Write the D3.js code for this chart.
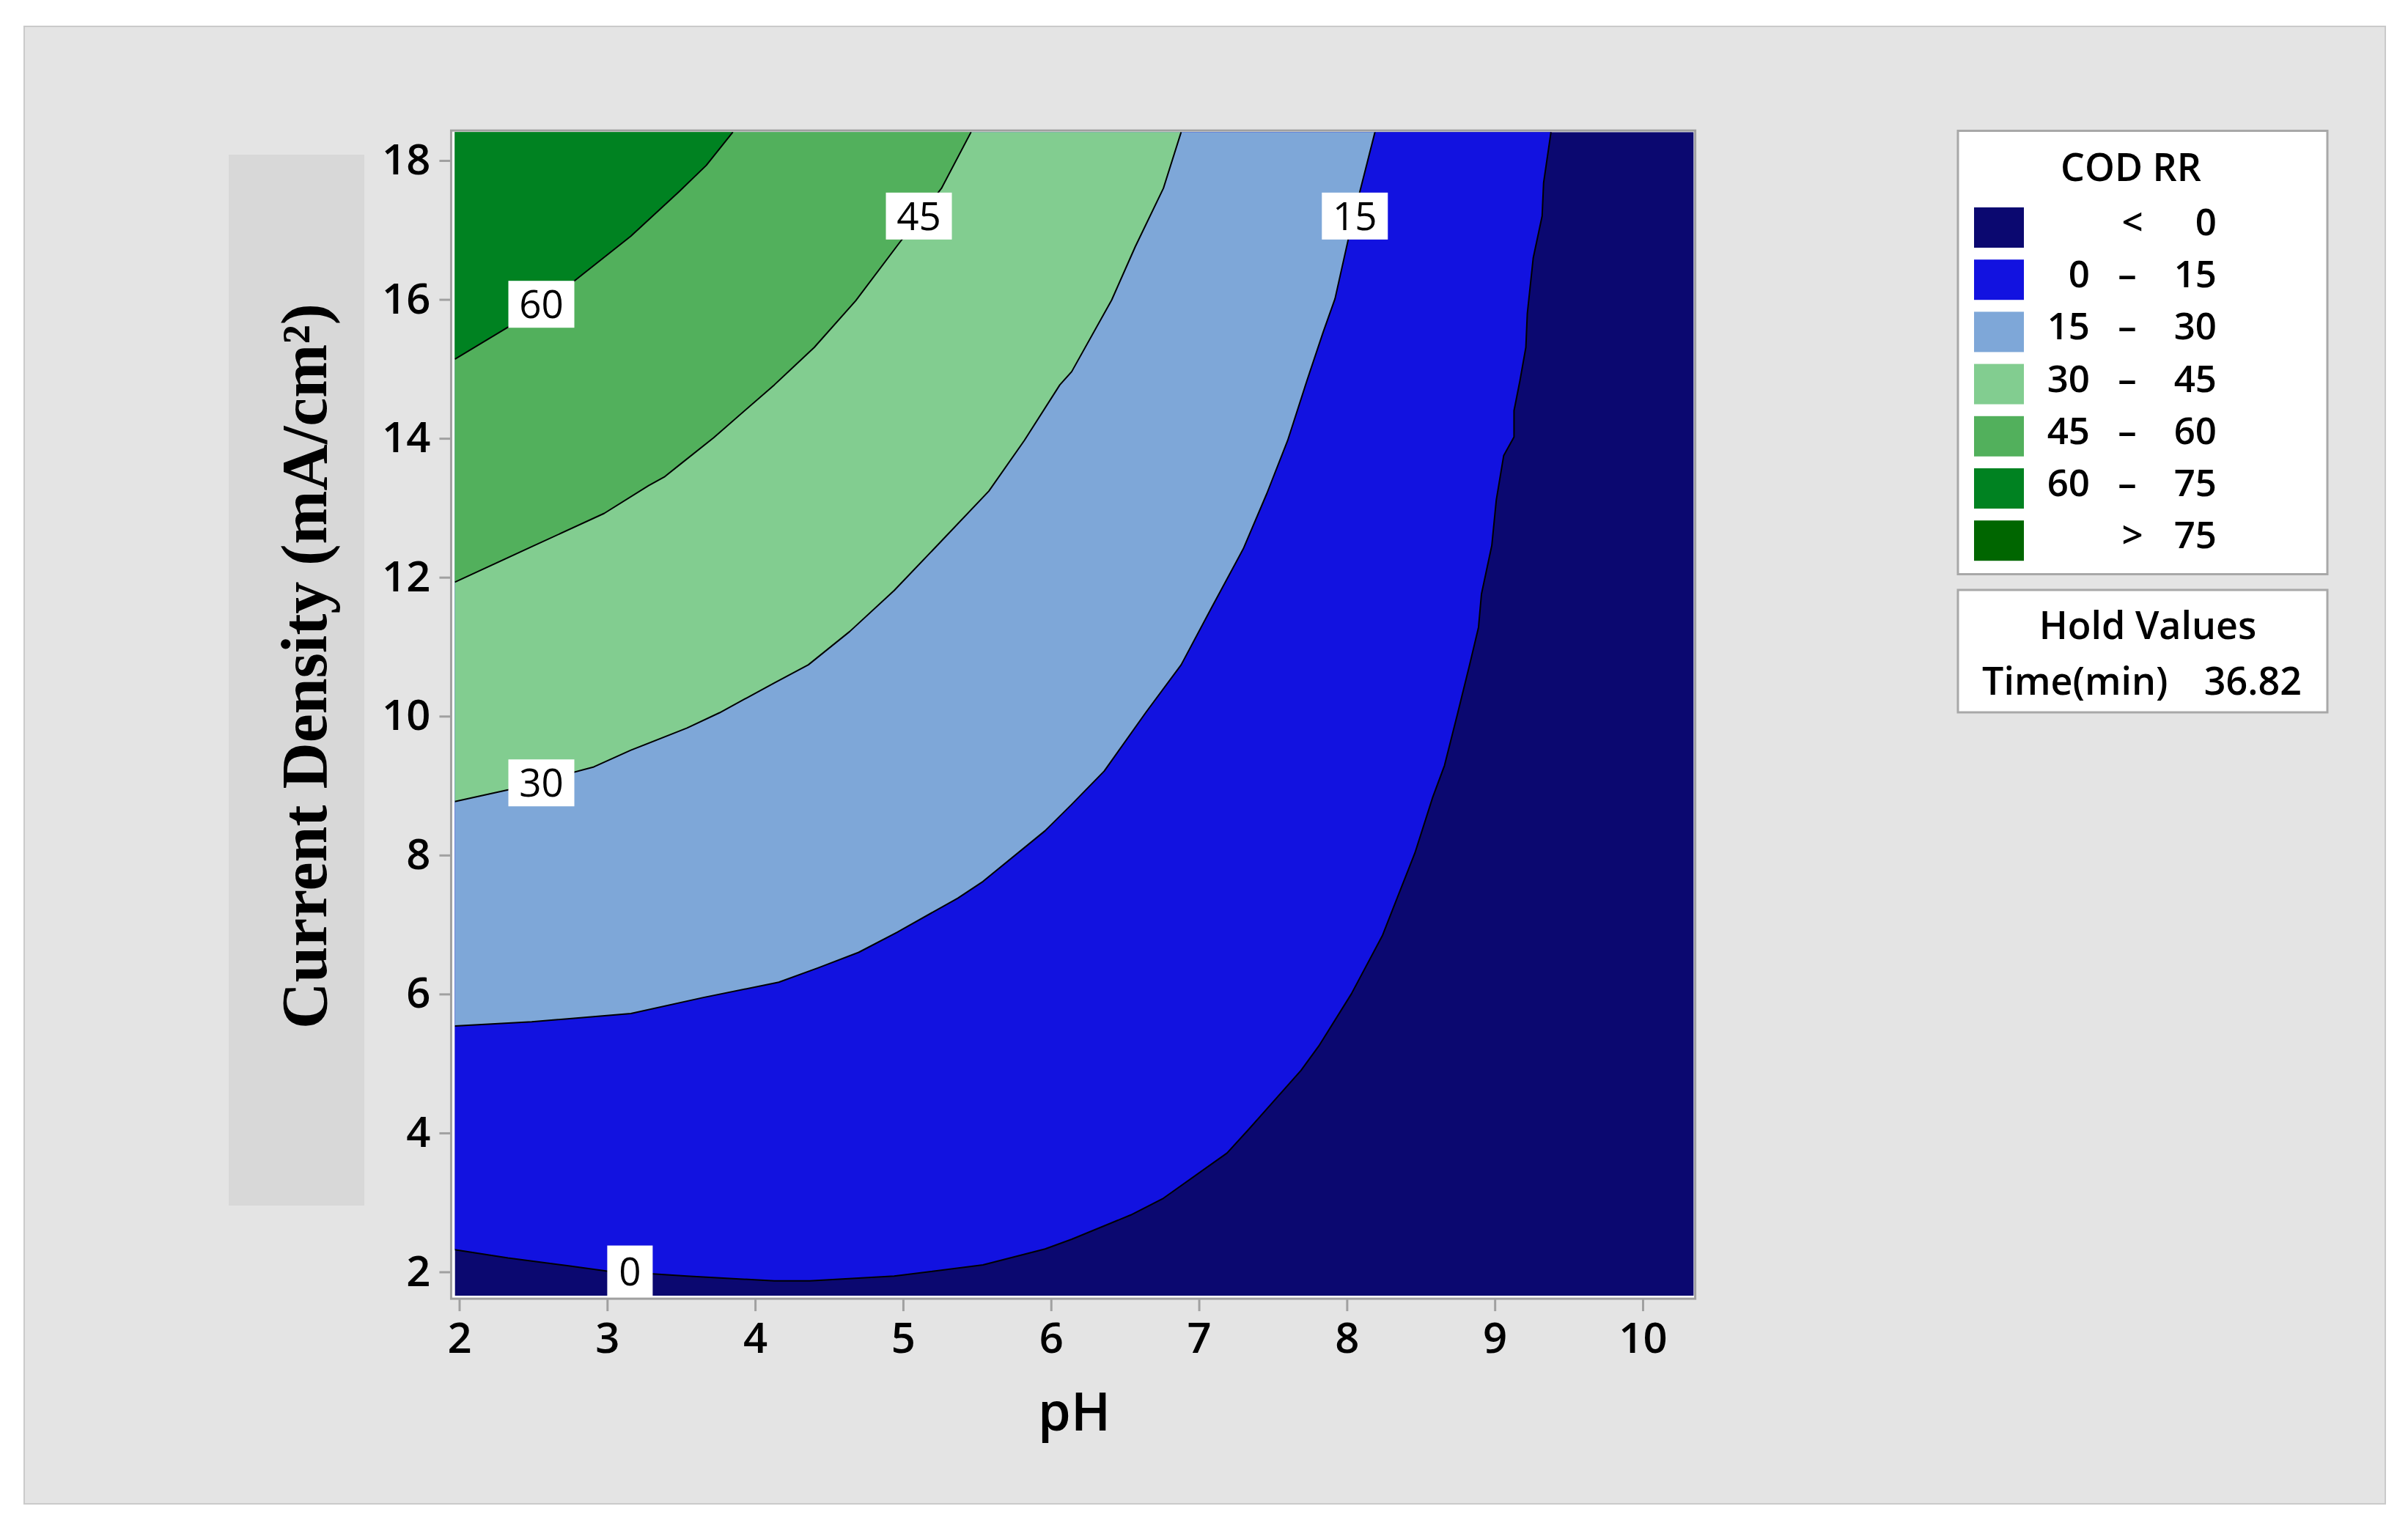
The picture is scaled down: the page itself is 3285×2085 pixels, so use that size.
<!DOCTYPE html>
<html><head><meta charset="utf-8">
<script src="https://cdn.jsdelivr.net/npm/d3@7"></script>
<style>html,body{margin:0;padding:0;background:#fff;} svg{display:block}</style>
</head><body>
<svg id="chart" width="3285" height="2085"></svg>
<script>
// ---------- data ----------
const xTicks = [2, 3, 4, 5, 6, 7, 8, 9, 10];
const yTicks = [2, 4, 6, 8, 10, 12, 14, 16, 18];
const xExtent = [1.97, 10.345];   // pH range covered by the surface
const yExtent = [1.656, 18.41];   // current density range covered by the surface
const xTitle = "pH";
const yTitle = "Current Density (mA/cm²)";

const contourLevels = [0, 15, 30, 45, 60];
// contour lines: [pH, current density]
const contour0 = [[1.97,2.32],[2.33,2.20],[2.73,2.09],[3.00,2.01],[3.31,1.97],[3.54,1.94],[4.13,1.87],[4.37,1.87],[4.94,1.94],[5.54,2.10],[5.96,2.33],[6.14,2.47],[6.54,2.82],[6.76,3.06],[7.19,3.71],[7.34,4.06],[7.69,4.90],[7.81,5.25],[8.03,6.00],[8.24,6.84],[8.46,8.03],[8.58,8.83],[8.66,9.29],[8.75,10.05],[8.83,10.74],[8.89,11.28],[8.91,11.76],[8.98,12.46],[9.01,13.11],[9.06,13.75],[9.13,14.02],[9.13,14.40],[9.17,14.83],[9.21,15.31],[9.22,15.80],[9.26,16.60],[9.32,17.20],[9.33,17.68],[9.38,18.41]];
const contour15 = [[1.97,5.54],[2.49,5.60],[3.16,5.72],[3.65,5.95],[4.16,6.17],[4.43,6.38],[4.70,6.60],[4.96,6.89],[5.37,7.38],[5.54,7.62],[5.96,8.35],[6.14,8.73],[6.36,9.21],[6.64,10.05],[6.88,10.74],[7.08,11.54],[7.30,12.41],[7.46,13.21],[7.60,13.97],[7.73,14.83],[7.84,15.53],[7.92,16.01],[8.01,16.87],[8.09,17.57],[8.19,18.41]];
const contour30 = [[1.97,8.77],[2.33,8.94],[2.91,9.27],[3.16,9.51],[3.54,9.83],[3.76,10.05],[4.13,10.48],[4.36,10.74],[4.64,11.22],[4.94,11.81],[5.29,12.59],[5.58,13.24],[5.82,13.97],[6.06,14.77],[6.14,14.96],[6.41,15.99],[6.57,16.76],[6.76,17.60],[6.88,18.41]];
const contour45 = [[1.97,11.93],[2.48,12.43],[2.98,12.92],[3.28,13.32],[3.39,13.45],[3.49,13.62],[3.72,14.01],[4.13,14.77],[4.40,15.31],[4.68,15.98],[4.97,16.80],[5.26,17.60],[5.46,18.41]];
const contour60 = [[1.97,15.14],[2.33,15.60],[2.78,16.27],[3.16,16.91],[3.49,17.56],[3.67,17.93],[3.85,18.41]];
const contourLines = [contour0, contour15, contour30, contour45, contour60];

// contour labels: level and where its box sits [pH, current density]
const labelLevels = ["60", "45", "15", "30", "0"];
const labelPH = [2.555, 5.107, 8.054, 2.555, 3.154];
const labelCD = [15.93, 17.20, 17.20, 9.04, 2.01];

// legend
const legendTitle = "COD RR";
const bandColors = ["#0b0870", "#1212e0", "#7ea7d8", "#82cd90", "#52b05c", "#008221", "#006600"];
const legendLow = ["", "0", "15", "30", "45", "60", ""];
const legendSep = ["<", "–", "–", "–", "–", "–", ">"];
const legendHigh = ["0", "15", "30", "45", "60", "75", "75"];
const holdTitle = "Hold Values";
const holdName = "Time(min)";
const holdValue = "36.82";

// ---------- drawing ----------
const svg = d3.select("#chart");
const SANS = "'Open Sans', 'Noto Sans', sans-serif";

const x = d3.scaleLinear().domain([2, 10]).range([626.5, 2241]);
const y = d3.scaleLinear().domain([2, 18]).range([1735.5, 219]);

// background panel
svg.append("rect").attr("x", 0).attr("y", 0).attr("width", 3285).attr("height", 2085).attr("fill", "#ffffff");
svg.append("rect").attr("x", 33).attr("y", 36).attr("width", 3221).attr("height", 2016)
  .attr("fill", "#e4e4e4").attr("stroke", "#cacaca").attr("stroke-width", 2);

// y title box + text
svg.append("rect").attr("x", 312).attr("y", 211).attr("width", 185).attr("height", 1434).attr("fill", "#d8d8d8");
svg.append("text")
  .attr("transform", "translate(445,909) rotate(-90)")
  .attr("text-anchor", "middle")
  .attr("font-family", "'Liberation Serif', 'DejaVu Serif', serif")
  .attr("font-weight", "bold")
  .attr("font-size", 88)
  .attr("textLength", 990)
  .attr("lengthAdjust", "spacingAndGlyphs")
  .attr("fill", "#000")
  .text(yTitle);

const X0 = x(xExtent[0]), X1 = x(xExtent[1]);
const Y0 = y(yExtent[0]), Y1 = y(yExtent[1]);

// frame
svg.append("rect")
  .attr("x", X0 - 5).attr("y", Y1 - 2)
  .attr("width", X1 - X0 + 7).attr("height", Y0 - Y1 + 6)
  .attr("fill", "#ffffff").attr("stroke", "#a0a0a0").attr("stroke-width", 3);

// clip
svg.append("defs").append("clipPath").attr("id", "plotclip")
  .append("rect").attr("x", X0).attr("y", Y1).attr("width", X1 - X0).attr("height", Y0 - Y1);

const plot = svg.append("g").attr("clip-path", "url(#plotclip)");
plot.append("rect").attr("x", X0).attr("y", Y1).attr("width", X1 - X0).attr("height", Y0 - Y1)
  .attr("fill", bandColors[0]);

const corner = [xExtent[0] - 0.2, yExtent[1] + 0.2];
const polyLine = d3.line().x(d => x(d[0])).y(d => y(d[1]));

contourLines.forEach((pts, i) => {
  const poly = [[pts[0][0] - 0.2, pts[0][1]], ...pts, [pts[pts.length - 1][0], pts[pts.length - 1][1] + 0.2], corner];
  plot.append("path").attr("d", polyLine(poly) + "Z").attr("fill", bandColors[i + 1]).attr("stroke", "none");
});
contourLines.forEach(pts => {
  plot.append("path").attr("d", polyLine(pts)).attr("fill", "none")
    .attr("stroke", "#000").attr("stroke-width", 2).attr("stroke-linejoin", "round");
});

// contour labels
labelLevels.forEach((lab, i) => {
  const w = 34 + 28 * lab.length, h = lab.length === 1 ? 70 : 64;
  const g = plot.append("g").attr("transform", `translate(${x(labelPH[i])},${y(labelCD[i])})`);
  g.append("rect").attr("x", -w / 2).attr("y", -h / 2).attr("width", w).attr("height", h).attr("fill", "#fff");
  g.append("text").attr("text-anchor", "middle").attr("dy", "0.36em")
    .attr("font-family", SANS).attr("font-size", 53).attr("fill", "#000").text(lab);
});

// axes
const gx = svg.append("g").attr("transform", `translate(0,${Y0 + 5})`)
  .call(d3.axisBottom(x).tickValues(xTicks).tickSize(16).tickPadding(16).tickFormat(d3.format("d")));
const gy = svg.append("g").attr("transform", `translate(${X0 - 5},0)`)
  .call(d3.axisLeft(y).tickValues(yTicks).tickSize(16).tickPadding(12).tickFormat(d3.format("d")));
[gx, gy].forEach(g => {
  g.select(".domain").remove();
  g.selectAll(".tick line").attr("stroke", "#a0a0a0").attr("stroke-width", 3);
  g.selectAll(".tick text").attr("font-family", SANS).attr("font-size", 58).attr("font-weight", 600).attr("fill", "#000");
});

svg.append("text").attr("x", (X0 + X1) / 2).attr("y", 1952).attr("text-anchor", "middle")
  .attr("font-family", SANS).attr("font-size", 72).attr("font-weight", 600).attr("fill", "#000").text(xTitle);

// legend
const LX = 2671, LW = 504;
svg.append("rect").attr("x", LX).attr("y", 178.5).attr("width", LW).attr("height", 605)
  .attr("fill", "#fff").attr("stroke", "#a8a8a8").attr("stroke-width", 3);
svg.append("text").attr("x", 2907).attr("y", 247).attr("text-anchor", "middle")
  .attr("font-family", SANS).attr("font-weight", 600).attr("font-size", 52).attr("fill", "#000").text(legendTitle);

bandColors.forEach((c, i) => {
  const top = 283 + i * 71.2;
  svg.append("rect").attr("x", 2693).attr("y", top).attr("width", 68).attr("height", 55).attr("fill", c);
  const t = (ax, anchor, s) => svg.append("text").attr("x", ax).attr("y", top + 38).attr("text-anchor", anchor)
    .attr("font-family", SANS).attr("font-weight", 600).attr("font-size", 51).attr("fill", "#000").text(s);
  if (legendLow[i]) t(2851, "end", legendLow[i]);
  t(legendSep[i] === "–" ? 2902 : 2909, "middle", legendSep[i]);
  t(3024, "end", legendHigh[i]);
});

svg.append("rect").attr("x", LX).attr("y", 805).attr("width", LW).attr("height", 167)
  .attr("fill", "#fff").attr("stroke", "#a8a8a8").attr("stroke-width", 3);
svg.append("text").attr("x", 2930).attr("y", 872).attr("text-anchor", "middle")
  .attr("font-family", SANS).attr("font-weight", 600).attr("font-size", 52).attr("fill", "#000").text(holdTitle);
svg.append("text").attr("x", 2704).attr("y", 948).attr("text-anchor", "start")
  .attr("font-family", SANS).attr("font-weight", 600).attr("font-size", 52).attr("fill", "#000").text(holdName);
svg.append("text").attr("x", 3140).attr("y", 948).attr("text-anchor", "end")
  .attr("font-family", SANS).attr("font-weight", 600).attr("font-size", 52).attr("fill", "#000").text(holdValue);
</script>
</body></html>
